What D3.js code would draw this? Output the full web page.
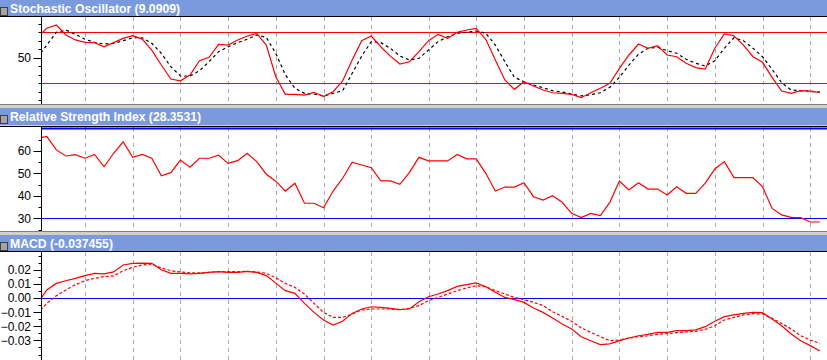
<!DOCTYPE html>
<html>
<head>
<meta charset="utf-8">
<script src="https://cdn.jsdelivr.net/npm/d3@7"></script>
<style>
  html, body { margin: 0; padding: 0; background: #d4d0c8; }
  svg { display: block; }
  .lbl { font-family: "Liberation Sans", Arial, sans-serif; font-size: 12px; fill: #000; }
  .ttl { font-family: "Liberation Sans", Arial, sans-serif; font-size: 12.2px; font-weight: bold; fill: #fff; }
</style>
</head>
<body>
<svg id="chart" width="827" height="360"></svg>
<script>
// bar index -1 is the bar just left of the axis (clipped)
var bars = d3.range(-1, 82);

// weekly separators (bar index)
var weekBars = [4, 9, 14, 19, 24, 29, 34, 40, 45, 50, 55, 60, 65, 70, 75, 80];

var stochK = [74, 84.7, 88.6, 76.8, 71, 68.2, 67.8, 63, 67.8, 72.9, 76,
    72, 59, 41.5, 25, 23, 29.8, 46.6, 50.6, 65.9, 65,
    71, 75.6, 78.8, 65, 27.5, 7, 7, 6.2, 9.4, 4.3,
    10.1, 22.7, 47.4, 70.1, 75.6, 63, 52, 42.7, 45.4, 57.2,
    70.1, 77.6, 72.9, 80, 82.7, 84.7, 71.8, 47.4, 23.9, 12.9,
    21.9, 16.8, 12.1, 8.9, 8.2, 7, 3.1, 8.9, 14.1, 20,
    37.6, 53.3, 66.2, 61.2, 64.2, 53.3, 51.3, 43.5, 38.4, 36.8,
    61.2, 78, 76, 65, 51.3, 44.7, 27, 10.9, 8.2, 11.3,
    10.9, 9.0909];

var stochD = [50, 65, 80, 82.7, 77.6, 71.8, 68.2, 66.2, 67, 70.1, 73.6,
    73.6, 67, 55.3, 39.5, 28.6, 28.6, 34.8, 45.4, 57.2, 63,
    67.8, 71.8, 76.8, 74.1, 55, 30, 14.1, 8.2, 7.4, 5.1,
    8.2, 11.3, 31.8, 52.1, 69, 67.8, 61.2, 52.1, 47.4, 49.4,
    59.2, 69, 74.8, 78.8, 80, 81.5, 78.8, 65, 45.4, 27,
    21.9, 18, 14.8, 11.3, 9.8, 7.4, 5.1, 6.6, 8.9, 15.3,
    27, 41.5, 54.1, 61.2, 62.4, 58.4, 55.3, 48.2, 43.5, 40.4,
    46.6, 61.2, 73.6, 70.1, 61.2, 51.3, 36.5, 20.7, 12.1, 11.3,
    10.6, 9.8];

var rsi = [65.5, 66.4, 60.4, 57.7, 58.3, 56.7, 58.4, 52.9, 58.9, 64, 57.1,
    58.4, 56.7, 48.9, 50.3, 55.9, 52.7, 56.7, 56.7, 58.1, 54.4,
    55.6, 58.9, 55.2, 49.6, 46.5, 42.1, 45.6, 36.7, 36.7, 34.7,
    42.1, 47.8, 54.9, 53.7, 52.5, 46.6, 46.6, 45.1, 50.4, 57.1,
    55.5, 55.5, 55.5, 58.4, 56.4, 56.4, 50, 42.1, 43.9, 43.9,
    45.8, 39.6, 38.1, 40, 37.1, 32.2, 30.3, 32.2, 31.2, 37.1,
    46.6, 42.6, 45.8, 43, 43, 40.4, 44, 41.1, 41.1, 45.6,
    51.9, 55.2, 48.1, 48.1, 48.1, 44, 34.4, 31.5, 30.4, 30.3,
    28.3531, 28.3531];

var macd = [-0.0041, 0.0057, 0.0103, 0.0122, 0.0139, 0.0158, 0.0174, 0.0170, 0.0184, 0.0233, 0.0245,
    0.0247, 0.0245, 0.0200, 0.0174, 0.0174, 0.0170, 0.0174, 0.0181, 0.0186, 0.0181,
    0.0181, 0.0188, 0.0181, 0.0158, 0.0105, 0.0052, 0.0033, -0.0038, -0.0102, -0.0156,
    -0.0191, -0.0165, -0.0109, -0.0078, -0.0062, -0.0066, -0.0073, -0.0083, -0.0078, -0.0026,
    0.0009, 0.0028, 0.0052, 0.0082, 0.0094, 0.0106, 0.0080, 0.0040, 0.0004, -0.0012,
    -0.0031, -0.0071, -0.0102, -0.0141, -0.0184, -0.0219, -0.0274, -0.0302, -0.0330, -0.0325,
    -0.0302, -0.0283, -0.0267, -0.0257, -0.0243, -0.0243, -0.0231, -0.0231, -0.0226, -0.0203,
    -0.0165, -0.0132, -0.0120, -0.0109, -0.0102, -0.0104, -0.0149, -0.0196, -0.0255, -0.0302,
    -0.0337, -0.037455];

var macdSignal = [-0.0112, -0.0038, 0.0016, 0.0057, 0.0094, 0.0122, 0.0139, 0.0151, 0.0156, 0.0193, 0.0217,
    0.0233, 0.0240, 0.0212, 0.0193, 0.0184, 0.0177, 0.0177, 0.0181, 0.0186, 0.0186,
    0.0186, 0.0188, 0.0184, 0.0174, 0.0143, 0.0103, 0.0075, 0.0028, -0.0038, -0.0102,
    -0.0137, -0.0137, -0.0113, -0.0085, -0.0078, -0.0078, -0.0078, -0.0083, -0.0073, -0.0054,
    -0.0019, 0.0004, 0.0028, 0.0052, 0.0071, 0.0087, 0.0080, 0.0052, 0.0028, 0.0004,
    -0.0012, -0.0031, -0.0054, -0.0097, -0.0130, -0.0165, -0.0212, -0.0243, -0.0274, -0.0302,
    -0.0297, -0.0283, -0.0274, -0.0267, -0.0257, -0.0252, -0.0245, -0.0240, -0.0236, -0.0222,
    -0.0196, -0.0156, -0.0137, -0.0120, -0.0111, -0.0113, -0.0144, -0.0180, -0.0219, -0.0267,
    -0.0297, -0.0321];

var stochLabels = [50];
var rsiLabels = [30, 40, 50, 60];
var macdLabels = [-0.03, -0.02, -0.01, 0, 0.01, 0.02];

var width = 827,
    axisX = 41.5;

var svg = d3.select("#chart");

var x = d3.scaleLinear().domain([0, 81]).range([46.8, 819.8]);

// panels: title bar + plot
var panels = [
    { id: "stoch", title: "Stochastic Oscillator (9.0909)", ty: 0, th: 16, top: 17, bottom: 104,
      y: d3.scaleLinear().domain([0, 100]).range([100.3, 15.3]),
      labels: stochLabels, fmt: d3.format("d"), minor: d3.range(0, 100, 10),
      levels: [80, 20], levelColor: "#ff0000",
      series: [
        { values: stochD, color: "#000", dash: "3,3" },
        { values: stochK, color: "#ff0000", dash: null }
      ] },
    { id: "rsi", title: "Relative Strength Index (28.3531)", ty: 108, th: 17, top: 127, bottom: 231,
      y: d3.scaleLinear().domain([30, 70]).range([218.3, 128.3]),
      labels: rsiLabels, fmt: d3.format("d"), minor: d3.range(25, 70, 5),
      levels: [70, 30], levelColor: "#0000ff",
      series: [
        { values: rsi, color: "#ff0000", dash: null }
      ] },
    { id: "macd", title: "MACD (-0.037455)", ty: 235, th: 16, top: 252, bottom: 360,
      y: d3.scaleLinear().domain([-0.03, 0.02]).range([340.4, 269.7]),
      labels: macdLabels, fmt: d3.format(".2f"), minor: d3.range(-0.045, 0.035, 0.005),
      levels: [0], levelColor: "#0000ff",
      series: [
        { values: macdSignal, color: "#ff0000", dash: "3,2" },
        { values: macd, color: "#ff0000", dash: null }
      ] }
];

var defs = svg.append("defs");

panels.forEach(function(p) {
    var g = svg.append("g").attr("class", "panel-" + p.id);

    // title bar
    g.append("rect")
        .attr("x", 0).attr("y", p.ty)
        .attr("width", width).attr("height", p.th)
        .attr("fill", "#7b9ade");
    g.append("rect")
        .attr("x", 0.5).attr("y", p.ty + 7.5)
        .attr("width", 7).attr("height", 8)
        .attr("fill", "#a4a4a4").attr("stroke", "#404040");
    g.append("text")
        .attr("class", "ttl")
        .attr("x", 10).attr("y", p.ty + 12.5)
        .text(p.title);

    // plot area
    g.append("rect")
        .attr("x", 0).attr("y", p.top)
        .attr("width", width).attr("height", p.bottom - p.top)
        .attr("fill", "#fff");
    g.append("line")
        .attr("x1", 0).attr("x2", width)
        .attr("y1", p.top - 0.5).attr("y2", p.top - 0.5)
        .attr("stroke", "#000");
    g.append("line")
        .attr("x1", 0).attr("x2", width)
        .attr("y1", p.bottom + 0.5).attr("y2", p.bottom + 0.5)
        .attr("stroke", "#808080");

    defs.append("clipPath").attr("id", "clip-" + p.id)
        .append("rect")
        .attr("x", axisX).attr("y", p.top)
        .attr("width", width - axisX).attr("height", p.bottom - p.top);

    var plot = g.append("g").attr("clip-path", "url(#clip-" + p.id + ")");

    // weekly grid
    plot.selectAll("line.grid")
        .data(weekBars)
        .enter().append("line")
        .attr("class", "grid")
        .attr("x1", function(d) { return Math.round(x(d)) + 0.5; })
        .attr("x2", function(d) { return Math.round(x(d)) + 0.5; })
        .attr("y1", p.top).attr("y2", p.bottom)
        .attr("stroke", "#a8a8a8")
        .attr("stroke-dasharray", "4,4");

    // level lines
    plot.selectAll("line.level")
        .data(p.levels)
        .enter().append("line")
        .attr("class", "level")
        .attr("x1", axisX).attr("x2", width)
        .attr("y1", function(d) { return Math.round(p.y(d)) + 0.5; })
        .attr("y2", function(d) { return Math.round(p.y(d)) + 0.5; })
        .attr("stroke", p.levelColor)
        .attr("stroke-width", function(d) { return p.id === "rsi" && d === 70 ? 2 : 1; });

    // series
    p.series.forEach(function(s) {
        var line = d3.line()
            .x(function(d, i) { return x(bars[i]); })
            .y(function(d) { return p.y(d); });
        plot.append("path")
            .datum(s.values)
            .attr("d", line)
            .attr("fill", "none")
            .attr("stroke", s.color)
            .attr("stroke-width", 1.2)
            .attr("stroke-dasharray", s.dash);
    });

    // left axis
    var ax = g.append("g");
    ax.append("line")
        .attr("x1", axisX).attr("x2", axisX)
        .attr("y1", p.top).attr("y2", p.bottom)
        .attr("stroke", "#000");
    ax.selectAll("line.minor")
        .data(p.minor.filter(function(v) {
            var yy = p.y(v); return yy > p.top + 1 && yy < p.bottom;
        }))
        .enter().append("line")
        .attr("x1", axisX - 3).attr("x2", axisX)
        .attr("y1", function(d) { return Math.round(p.y(d)) + 0.5; })
        .attr("y2", function(d) { return Math.round(p.y(d)) + 0.5; })
        .attr("stroke", "#000");
    ax.selectAll("line.major")
        .data(p.labels)
        .enter().append("line")
        .attr("x1", axisX - 8).attr("x2", axisX)
        .attr("y1", function(d) { return Math.round(p.y(d)) + 0.5; })
        .attr("y2", function(d) { return Math.round(p.y(d)) + 0.5; })
        .attr("stroke", "#000");
    ax.selectAll("text")
        .data(p.labels)
        .enter().append("text")
        .attr("class", "lbl")
        .attr("x", 31)
        .attr("y", function(d) { return p.y(d) + 4.5; })
        .attr("text-anchor", "end")
        .text(function(d) { return p.fmt(d); });
});
</script>
</body>
</html>
